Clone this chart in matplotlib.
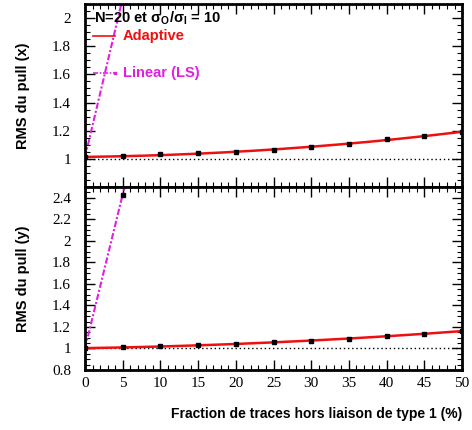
import numpy as np
import matplotlib
matplotlib.use("Agg")
import matplotlib.pyplot as plt
from matplotlib.ticker import MultipleLocator

# fraction de traces hors liaison (%)
frac = np.array([0, 5, 10, 15, 20, 25, 30, 35, 40, 45, 50])

# RMS du pull (x)
adapt_x = np.array([1.01, 1.02, 1.033, 1.04, 1.046, 1.063, 1.084, 1.106, 1.14, 1.163, 1.19])
frac_ls = np.array([0, 5, 10])
lin_x = np.array([1.01, 2.14, 3.3])

# RMS du pull (y)
adapt_y = np.array([1.0, 1.01, 1.02, 1.035, 1.04, 1.06, 1.072, 1.084, 1.116, 1.138, 1.163])
lin_y = np.array([1.0, 2.43, 3.6])

err = 0.006

plt.rcParams['font.family'] = ['Liberation Sans', 'DejaVu Sans']
plt.rcParams['mathtext.fontset'] = 'custom'
plt.rcParams['mathtext.rm'] = 'Liberation Sans:bold'
plt.rcParams['mathtext.it'] = 'Liberation Sans:bold'
plt.rcParams['mathtext.bf'] = 'Liberation Sans:bold'
plt.rcParams['mathtext.default'] = 'bf'

fig = plt.figure(figsize=(4.72, 4.30), dpi=100)
ax1 = fig.add_axes([0.180, 0.565, 0.799, 0.426])
ax2 = fig.add_axes([0.180, 0.1395, 0.799, 0.4255])

magenta = '#e020e0'
red = '#ee1010'

def panel(ax, adapt, lin, ylo, yhi, ylabel, hide):
    # droite de reference a 1
    ax.plot([0, 50], [1, 1], color='black', ls=(0, (1, 2)), lw=1)
    # ajustement
    c = np.polyfit(frac, adapt, 2)
    xx = np.linspace(0, 50, 200)
    ax.plot(xx, np.polyval(c, xx), color=red, lw=1.8, zorder=3)
    ax.errorbar(frac, adapt, yerr=err, fmt='s', color='black', ms=2.2,
                elinewidth=0.8, capsize=0, zorder=4)
    ax.plot(frac_ls, lin, color=magenta, lw=1.5, ls=(0, (3, 1, 1, 1)),
            marker='s', ms=1.8, zorder=2)
    ax.plot(frac_ls[1:2], lin[1:2], 's', color='black', ms=2.2, zorder=4)
    ax.set_xlim(0, 50)
    ax.set_ylim(ylo, yhi)
    ax.xaxis.set_major_locator(MultipleLocator(5))
    ax.xaxis.set_minor_locator(MultipleLocator(1))
    ax.yaxis.set_major_locator(MultipleLocator(0.2))
    ax.yaxis.set_minor_locator(MultipleLocator(0.05))
    ax.tick_params(which='both', direction='in', top=True, right=True)
    ax.tick_params(which='major', length=7, width=1, pad=10)
    ax.tick_params(which='minor', length=3.5, width=0.8)
    ax.tick_params(axis='x', which='major', pad=5)
    for s in ax.spines.values():
        s.set_linewidth(2)
    ax.yaxis.set_major_formatter(plt.FuncFormatter(
        lambda v, p: '' if round(v, 2) in hide else '%g' % round(v, 2)))
    ax.set_ylabel(ylabel, fontsize=10.5, fontweight='bold', labelpad=16)

panel(ax1, adapt_x, lin_x, 0.8, 2.1, 'RMS du pull (x)', [0.8])
panel(ax2, adapt_y, lin_y, 0.8, 2.5, 'RMS du pull (y)', [])
ax1.set_xticklabels([])
for ax in (ax1, ax2):
    for t in ax.get_yticklabels() + ax.get_xticklabels():
        t.set_family('Liberation Serif')
        t.set_fontsize(11)
ax2.set_xlabel('Fraction de traces hors liaison de type 1 (%)', fontsize=10,
               fontweight='bold', labelpad=12, x=1.0, ha='right')

# legende
ax1.text(0.025, 0.923, r'N=20 et $\sigma_{O}/\sigma_{I}$ = 10',
         transform=ax1.transAxes, fontsize=10.5, fontweight='bold', va='center')
ax1.plot([0.02, 0.08], [0.825, 0.825], color=red, lw=1.2, transform=ax1.transAxes)
ax1.text(0.10, 0.825, 'Adaptive', transform=ax1.transAxes, color=red,
         fontsize=10.5, fontweight='bold', va='center')
ax1.plot([0.02, 0.08], [0.623, 0.623], color=magenta, lw=1.2, ls=(0, (3, 1, 1, 1)),
         marker='s', ms=1.5, markevery=[1], transform=ax1.transAxes)
ax1.text(0.10, 0.623, 'Linear (LS)', transform=ax1.transAxes, color=magenta,
         fontsize=10.5, fontweight='bold', va='center')

fig.savefig('out.png', dpi=100)
